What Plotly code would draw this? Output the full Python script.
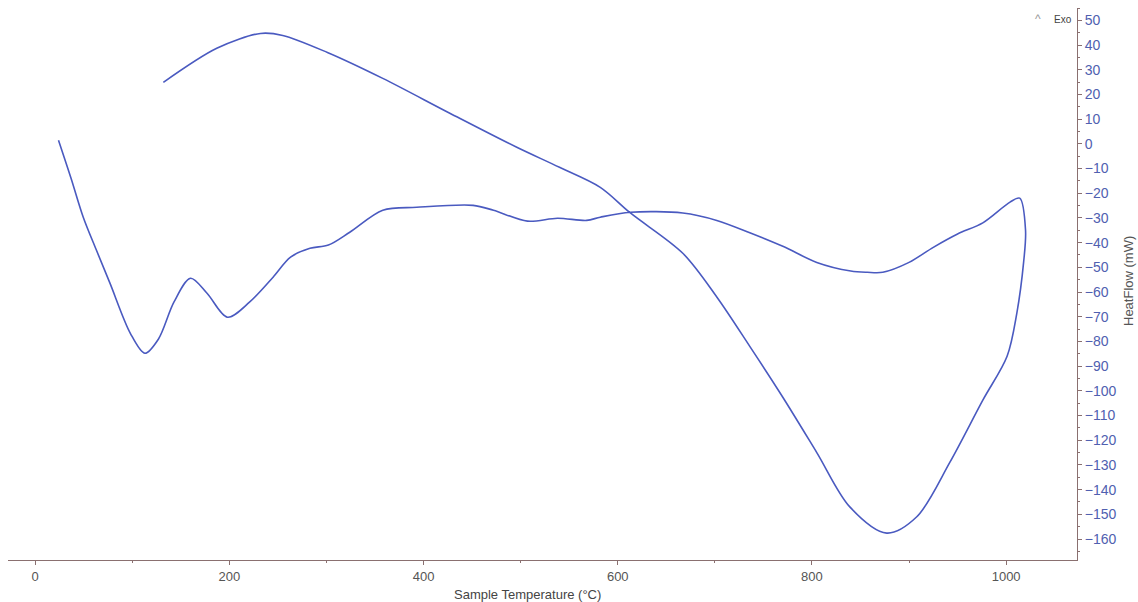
import plotly.graph_objects as go

# Heating segment (Sample Temperature °C, HeatFlow mW)
heat_T = [24, 37, 49.5, 63, 77, 98, 113, 127, 143, 160, 177, 198, 221, 245, 263, 283, 302, 324,
          358, 393, 451, 472, 507, 538, 568, 582, 613, 667, 702, 736, 770, 805, 840, 857, 873,
          900, 925, 950, 976, 1004, 1014]
heat_HF = [1.5, -14, -29.7, -43, -56.4, -76.7, -84.8, -79, -64, -54.4, -60.5, -70.2, -64, -54,
           -45.9, -42.3, -41, -35.8, -26.9, -25.7, -24.9, -26.9, -31.3, -30.1, -31, -29.7, -27.7,
           -28, -31, -36, -41.5, -48, -51.5, -52, -52, -48, -41.9, -36.5, -32, -23.6, -22]

# Cooling segment
cool_T = [1014, 1020, 1018, 1011, 1001, 976, 942, 908, 877, 839, 805, 770, 736, 702, 667, 613,
          582, 540, 496, 427, 358, 301, 255, 232, 187, 132]
cool_HF = [-22, -35, -48, -68.6, -86, -103.8, -129, -151, -157.6, -147, -125, -102.6, -82, -62,
           -44.3, -28, -17.6, -9.5, -1.4, 12.4, 26.5, 37, 43.9, 44.7, 38.7, 24.9]

x_ticks = [0, 200, 400, 600, 800, 1000]
y_ticks = list(range(50, -161, -10))

line_color = "#4a5ac0"

fig = go.Figure()
fig.add_trace(go.Scatter(x=heat_T + cool_T[1:], y=heat_HF + cool_HF[1:], mode="lines",
                         line=dict(color=line_color, width=1.6, shape="spline", smoothing=0.9),
                         showlegend=False, hoverinfo="skip"))

axis_line = "#8a7070"
fig.update_layout(
    width=1138, height=602,
    margin=dict(l=8, r=61, t=8, b=42),
    paper_bgcolor="white", plot_bgcolor="white",
    font=dict(family="Liberation Sans Narrow, Liberation Sans, Arial", size=13, color="#555"),
    xaxis=dict(range=[-28, 1073], tickvals=x_ticks, ticks="outside", ticklen=4, tickcolor=axis_line,
               showgrid=False, zeroline=False, showline=True, linecolor=axis_line, linewidth=1,
               tickfont=dict(size=13, color="#555"),
               minor=dict(dtick=100, ticklen=2, tickcolor=axis_line, ticks="outside")),
    yaxis=dict(range=[-168.5, 55], side="right", tickvals=y_ticks, ticks="outside", ticklen=4,
               tickcolor=axis_line, showgrid=False, zeroline=False, showline=True,
               linecolor=axis_line, linewidth=1, tickfont=dict(size=14, color="#5060b0"),
               minor=dict(dtick=5, ticklen=2, tickcolor=axis_line, ticks="outside")),
    annotations=[
        dict(text="Sample Temperature (°C)", x=527, y=594, showarrow=False,
             font=dict(size=13, color="#444", family="Liberation Sans, Arial")),
        dict(text="HeatFlow (mW)", x=1128, y=281, textangle=-90, showarrow=False,
             font=dict(size=13, color="#555", family="Liberation Sans, Arial")),
        dict(text="^", x=1038, y=19, showarrow=False, font=dict(size=12, color="#999")),
        dict(text="Exo", x=1063, y=20, showarrow=False, font=dict(size=10, color="#444")),
    ],
)

# Convert pixel-placed annotations to paper coords
plot_l, plot_r, plot_t, plot_b = 8, 1077, 8, 560
new_ann = []
for a in fig.layout.annotations:
    px, py = a.x, a.y
    a.x = (px - plot_l) / (plot_r - plot_l)
    a.y = (plot_b - py) / (plot_b - plot_t)
    a.xref = "paper"; a.yref = "paper"
    a.xanchor = "center"; a.yanchor = "middle"
    new_ann.append(a)
fig.layout.annotations = new_ann

fig.write_html("out.html")
